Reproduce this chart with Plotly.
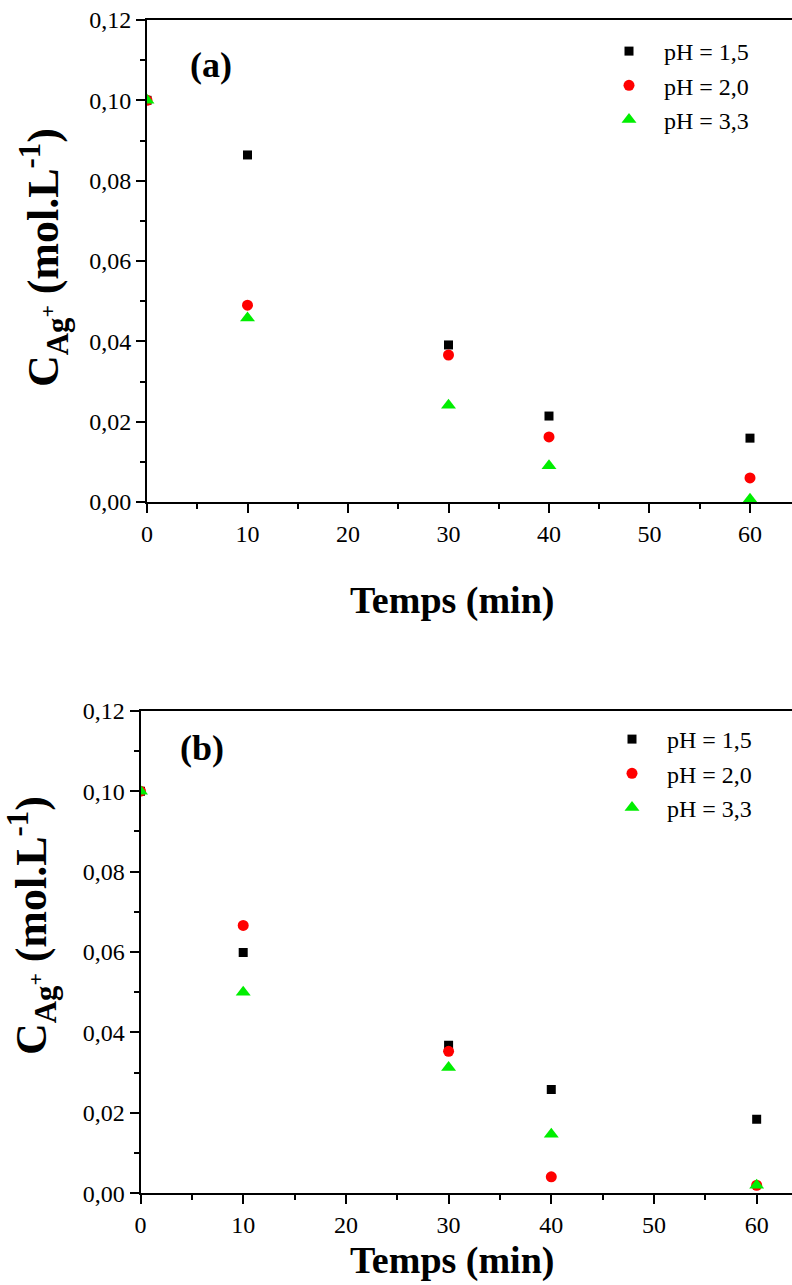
import plotly.graph_objects as go

# ---- data ----
time_min = [0, 10, 30, 40, 60]
tick_x = [0, 10, 20, 30, 40, 50, 60]

# panel (a)
a_ph15 = [0.100, 0.0864, 0.0391, 0.0214, 0.0159]
a_ph20 = [0.100, 0.0490, 0.0366, 0.0162, 0.0060]
a_ph33 = [0.100, 0.0458, 0.0241, 0.0090, 0.0007]

# panel (b)
b_ph15 = [0.100, 0.0599, 0.0368, 0.0258, 0.0184]
b_ph20 = [0.100, 0.0666, 0.0353, 0.0041, 0.0020]
b_ph33 = [0.100, 0.0500, 0.0313, 0.0147, 0.0020]

names = ["pH = 1,5", "pH = 2,0", "pH = 3,3"]
colors = ["#000000", "#ff0000", "#00ee00"]
symbols = ["square", "circle", "triangle-up"]
sizes = [9, 11, 13]

W, H = 792, 1285
FONT = "Liberation Serif"


def px(x):
    return x / W


def py(y):
    return 1 - y / H


fig = go.Figure()

for i, ys in enumerate([a_ph15, a_ph20, a_ph33]):
    fig.add_trace(go.Scatter(
        x=time_min, y=ys, mode="markers", name=names[i],
        marker=dict(color=colors[i], symbol=symbols[i], size=sizes[i], line=dict(width=0)),
        xaxis="x", yaxis="y", legend="legend"))

for i, ys in enumerate([b_ph15, b_ph20, b_ph33]):
    fig.add_trace(go.Scatter(
        x=time_min, y=ys, mode="markers", name=names[i],
        marker=dict(color=colors[i], symbol=symbols[i], size=sizes[i], line=dict(width=0)),
        xaxis="x2", yaxis="y2", legend="legend2"))

tickfont = dict(family=FONT, size=24, color="black")


def xax(domain, rng, anchor):
    return dict(domain=domain, range=rng, anchor=anchor, showgrid=False, zeroline=False,
                automargin=False,
                showline=True, linecolor="black", linewidth=2, mirror=True,
                ticks="outside", ticklen=9, tickwidth=2, tickcolor="black",
                tickvals=tick_x, tickfont=tickfont,
                minor=dict(dtick=5, tick0=0, ticks="outside", ticklen=5, tickwidth=2,
                           tickcolor="black", showgrid=False))


def yax(domain, anchor):
    return dict(domain=domain, range=[0, 0.12], anchor=anchor, showgrid=False, zeroline=False,
                automargin=False,
                showline=True, linecolor="black", linewidth=2, mirror=True,
                ticks="outside", ticklen=9, tickwidth=2, tickcolor="black",
                dtick=0.02, tick0=0, tickformat=".2f", tickfont=tickfont,
                minor=dict(dtick=0.01, tick0=0, ticks="outside", ticklen=5, tickwidth=2,
                           tickcolor="black", showgrid=False))


legfont = dict(family=FONT, size=24, color="black")


def ann(text, x, y, size, angle=0):
    return dict(text=text, x=px(x), y=py(y), xref="paper", yref="paper",
                xanchor="center", yanchor="middle", textangle=angle, showarrow=False,
                font=dict(family=FONT, size=size, color="black"))


ylab = "<b>C<sub>Ag<sup>+</sup></sub> (mol.L<sup>-1</sup>)</b>"

fig.update_layout(
    width=W, height=H,
    margin=dict(l=0, r=0, t=0, b=0, autoexpand=False),
    font=dict(family=FONT, color="black"),
    paper_bgcolor="white", plot_bgcolor="white",
    separators=", ",
    xaxis=xax([px(147), 1.0], [0, 64.18], "y"),
    yaxis=yax([py(502), py(20)], "x"),
    xaxis2=xax([px(140.5), 1.0], [0, 63.44], "y2"),
    yaxis2=yax([py(1193.3), py(710.7)], "x2"),
    legend=dict(x=px(594), y=py(29), xanchor="left", yanchor="top", itemwidth=60,
                font=legfont, bgcolor="rgba(0,0,0,0)", itemsizing="trace"),
    legend2=dict(x=px(597), y=py(717), xanchor="left", yanchor="top", itemwidth=60,
                 font=legfont, bgcolor="rgba(0,0,0,0)", itemsizing="trace"),
    annotations=[
        ann("<b>(a)</b>", 211, 65, 36),
        ann("<b>(b)</b>", 202, 748, 36),
        ann("<b>Temps (min)</b>", 452, 600, 38),
        ann("<b>Temps (min)</b>", 452, 1260, 38),
        ann(ylab, 44, 258, 44, -90),
        ann(ylab, 32, 926, 44, -90),
    ],
)

fig.write_html("out.html")
